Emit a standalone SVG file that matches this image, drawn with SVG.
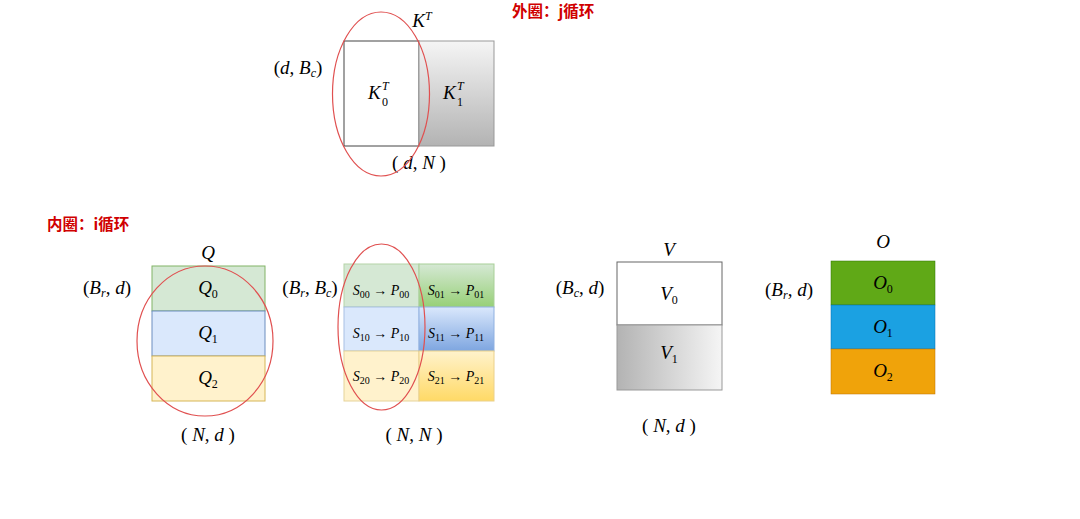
<svg xmlns="http://www.w3.org/2000/svg" width="1080" height="519" viewBox="0 0 1080 519">
<style>
text{font-family:"Liberation Serif","DejaVu Serif",serif;fill:#000;}
.m{font-size:19px;text-anchor:middle;}
.st{font-size:19px;}
.c{font-size:14px;text-anchor:middle;}
.i{font-style:italic;}
.s{font-size:12px;}
.cs{font-size:10px;}
.red{font-family:"Noto Sans CJK SC","Noto Sans",sans-serif;font-size:15.5px;font-weight:bold;fill:#d00000;}
.ell{fill:none;stroke:#e05050;stroke-width:1.2;}
</style>
<defs>
<linearGradient id="gk" x1="0" y1="0" x2="0" y2="1"><stop offset="0" stop-color="#f5f5f5"/><stop offset="1" stop-color="#b3b3b3"/></linearGradient>
<linearGradient id="gv" x1="0" y1="0" x2="1" y2="0"><stop offset="0" stop-color="#b3b3b3"/><stop offset="1" stop-color="#f5f5f5"/></linearGradient>
<linearGradient id="gg" x1="0" y1="0" x2="0" y2="1"><stop offset="0" stop-color="#d5e8d4"/><stop offset="1" stop-color="#97d077"/></linearGradient>
<linearGradient id="gb" x1="0" y1="0" x2="0" y2="1"><stop offset="0" stop-color="#dae8fc"/><stop offset="1" stop-color="#7ea6e0"/></linearGradient>
<linearGradient id="gy" x1="0" y1="0" x2="0" y2="1"><stop offset="0" stop-color="#fff2cc"/><stop offset="1" stop-color="#ffd966"/></linearGradient>
</defs>

<g id="K">
<rect x="344" y="41" width="75" height="105" fill="#fff" stroke="#444" stroke-width="1"/>
<rect x="419" y="41" width="75" height="105" fill="url(#gk)" stroke="#999" stroke-width="1"/>
<text class="m" x="422" y="27"><tspan class="i">K</tspan><tspan class="i s" dy="-7">T</tspan></text>
<text class="st i" x="368" y="99">K</text>
<text class="s i" x="382" y="90">T</text>
<text class="s" x="382" y="106">0</text>
<text class="st i" x="443" y="99">K</text>
<text class="s i" x="457" y="90">T</text>
<text class="s" x="457" y="106">1</text>
<text class="m" x="298" y="74">(<tspan class="i">d</tspan>, <tspan class="i">B</tspan><tspan class="i s" dy="3">c</tspan><tspan dy="-3">)</tspan></text>
<text class="m" x="419" y="169">( <tspan class="i">d</tspan>, <tspan class="i">N</tspan> )</text>
<ellipse class="ell" cx="381" cy="94" rx="48.5" ry="82"/>
<text class="red" x="512" y="17">外圈：j循环</text>
</g>

<g id="Q">
<rect x="152" y="266" width="113" height="45" fill="#d5e8d4" stroke="#82b366"/>
<rect x="152" y="311" width="113" height="45" fill="#dae8fc" stroke="#6c8ebf"/>
<rect x="152" y="356" width="113" height="45" fill="#fff2cc" stroke="#d6b656"/>
<text class="m" x="208" y="259"><tspan class="i">Q</tspan></text>
<text class="m" x="208" y="294"><tspan class="i">Q</tspan><tspan class="s" dy="4">0</tspan></text>
<text class="m" x="208" y="339"><tspan class="i">Q</tspan><tspan class="s" dy="4">1</tspan></text>
<text class="m" x="208" y="384"><tspan class="i">Q</tspan><tspan class="s" dy="4">2</tspan></text>
<text class="m" x="107" y="294">(<tspan class="i">B</tspan><tspan class="i s" dy="3">r</tspan><tspan dy="-3">, </tspan><tspan class="i">d</tspan>)</text>
<text class="m" x="208" y="441">( <tspan class="i">N</tspan>, <tspan class="i">d</tspan> )</text>
<ellipse class="ell" cx="205" cy="341" rx="68" ry="75"/>
<text class="red" x="47" y="230">内圈：i循环</text>
</g>

<g id="S">
<rect x="344" y="264" width="75" height="43" fill="#d5e8d4" stroke="#b5d3a8"/>
<rect x="344" y="307" width="75" height="44" fill="#dae8fc" stroke="#a8c0e4"/>
<rect x="344" y="351" width="75" height="50" fill="#fff2cc" stroke="#e6d39a"/>
<rect x="419" y="264" width="75" height="43" fill="url(#gg)" stroke="#a8cf98"/>
<rect x="419" y="307" width="75" height="44" fill="url(#gb)" stroke="#8fb0e0"/>
<rect x="419" y="351" width="75" height="50" fill="url(#gy)" stroke="#ead08a"/>
<text class="c" x="381" y="295"><tspan class="i">S</tspan><tspan class="cs" dy="3">00</tspan><tspan dy="-3"> → </tspan><tspan class="i">P</tspan><tspan class="cs" dy="3">00</tspan></text>
<text class="c" x="456" y="295"><tspan class="i">S</tspan><tspan class="cs" dy="3">01</tspan><tspan dy="-3"> → </tspan><tspan class="i">P</tspan><tspan class="cs" dy="3">01</tspan></text>
<text class="c" x="381" y="338"><tspan class="i">S</tspan><tspan class="cs" dy="3">10</tspan><tspan dy="-3"> → </tspan><tspan class="i">P</tspan><tspan class="cs" dy="3">10</tspan></text>
<text class="c" x="456" y="338"><tspan class="i">S</tspan><tspan class="cs" dy="3">11</tspan><tspan dy="-3"> → </tspan><tspan class="i">P</tspan><tspan class="cs" dy="3">11</tspan></text>
<text class="c" x="381" y="381"><tspan class="i">S</tspan><tspan class="cs" dy="3">20</tspan><tspan dy="-3"> → </tspan><tspan class="i">P</tspan><tspan class="cs" dy="3">20</tspan></text>
<text class="c" x="456" y="381"><tspan class="i">S</tspan><tspan class="cs" dy="3">21</tspan><tspan dy="-3"> → </tspan><tspan class="i">P</tspan><tspan class="cs" dy="3">21</tspan></text>
<text class="m" x="310" y="294">(<tspan class="i">B</tspan><tspan class="i s" dy="3">r</tspan><tspan dy="-3">, </tspan><tspan class="i">B</tspan><tspan class="i s" dy="3">c</tspan><tspan dy="-3">)</tspan></text>
<text class="m" x="414" y="441">( <tspan class="i">N</tspan>, <tspan class="i">N</tspan> )</text>
<ellipse class="ell" cx="381.5" cy="327" rx="43.5" ry="83"/>
</g>

<g id="V">
<rect x="617" y="262" width="105" height="63" fill="#fff" stroke="#666"/>
<rect x="617" y="325" width="105" height="65" fill="url(#gv)" stroke="#999"/>
<text class="m" x="669" y="256"><tspan class="i">V</tspan></text>
<text class="m" x="669" y="300"><tspan class="i">V</tspan><tspan class="s" dy="4">0</tspan></text>
<text class="m" x="669" y="359"><tspan class="i">V</tspan><tspan class="s" dy="4">1</tspan></text>
<text class="m" x="580" y="294">(<tspan class="i">B</tspan><tspan class="i s" dy="3">c</tspan><tspan dy="-3">, </tspan><tspan class="i">d</tspan>)</text>
<text class="m" x="669" y="432">( <tspan class="i">N</tspan>, <tspan class="i">d</tspan> )</text>
</g>

<g id="O">
<rect x="831" y="261" width="104" height="44" fill="#60a917" stroke="#2d7600" stroke-width="0.5"/>
<rect x="831" y="305" width="104" height="44" fill="#1ba1e2" stroke="#006eaf" stroke-width="0.5"/>
<rect x="831" y="349" width="104" height="45" fill="#f0a30a" stroke="#bd7000" stroke-width="0.5"/>
<text class="m" x="883" y="248"><tspan class="i">O</tspan></text>
<text class="m" x="883" y="289"><tspan class="i">O</tspan><tspan class="s" dy="4">0</tspan></text>
<text class="m" x="883" y="333"><tspan class="i">O</tspan><tspan class="s" dy="4">1</tspan></text>
<text class="m" x="883" y="377"><tspan class="i">O</tspan><tspan class="s" dy="4">2</tspan></text>
<text class="m" x="789" y="296">(<tspan class="i">B</tspan><tspan class="i s" dy="3">r</tspan><tspan dy="-3">, </tspan><tspan class="i">d</tspan>)</text>
</g>
<g id="connectors"/>
</svg>
